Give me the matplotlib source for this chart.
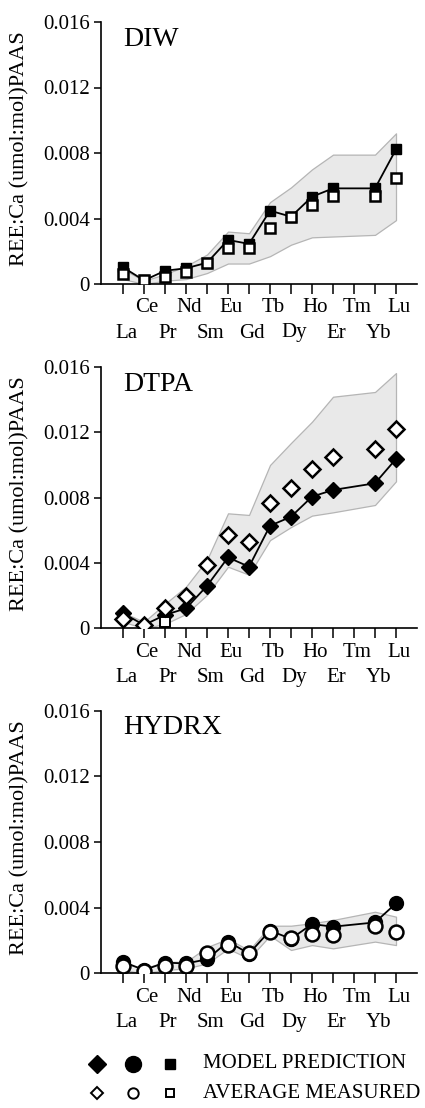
import matplotlib
matplotlib.use("Agg")
import matplotlib.pyplot as plt
from matplotlib.lines import Line2D
from matplotlib.transforms import blended_transform_factory, offset_copy
import numpy as np

plt.rcParams['font.family'] = ['Liberation Serif', 'DejaVu Serif']

elements = ["La", "Ce", "Pr", "Nd", "Sm", "Eu", "Gd", "Tb", "Dy", "Ho", "Er", "Tm", "Yb", "Lu"]
yticks = [0, 0.004, 0.008, 0.012, 0.016]
ytick_labels = ["0", "0.004", "0.008", "0.012", "0.016"]
ylabel = "REE:Ca (umol:mol)PAAS"

# DIW
diw_model = [0.00102, 0.00022, 0.00081, 0.00096, 0.0013, 0.00269, 0.00245, 0.00448, 0.00411, 0.00533, 0.00584, None, 0.00584, 0.00822]
diw_meas = [0.00059, 0.00022, 0.00045, 0.00071, 0.0013, 0.00222, 0.00218, 0.0034, 0.00411, 0.00482, 0.00537, None, 0.00537, 0.00645]
diw_lo = [0.0003, 0.0, 0.0002, 0.0003, 0.00067, 0.00125, 0.00125, 0.0017, 0.0024, 0.00285, 0.0029, None, 0.003, 0.0039]
diw_hi = [0.0009, 0.0002, 0.0006, 0.0011, 0.0018, 0.0032, 0.0031, 0.0050, 0.0059, 0.0070, 0.0079, None, 0.0079, 0.0092]

# DTPA
dtpa_model = [0.00092, 0.0002, 0.00082, 0.00122, 0.0026, 0.00434, 0.00377, 0.00628, 0.00683, 0.00806, 0.00847, None, 0.00888, 0.01037]
dtpa_meas = [0.0006, 0.0002, 0.00122, 0.00198, 0.0039, 0.0057, 0.00526, 0.00765, 0.00857, 0.00973, 0.01051, None, 0.01096, 0.0122]
dtpa_lo = [0.0004, 0.0, 0.00027, 0.00088, 0.00205, 0.00377, 0.00328, 0.0054, 0.0062, 0.0069, 0.0071, None, 0.00755, 0.0090]
dtpa_hi = [0.00096, 0.0004, 0.0015, 0.00255, 0.0042, 0.00704, 0.00694, 0.0100, 0.01135, 0.01265, 0.01418, None, 0.01447, 0.01563]
dtpa_extra_elem = ["Pr"]
dtpa_extra_val = [0.0004]

# HYDRX
hydrx_model = [0.0007, 0.0002, 0.00065, 0.0006, 0.00085, 0.00193, 0.0012, 0.0026, 0.0021, 0.0030, 0.00284, None, 0.0031, 0.00426]
hydrx_meas = [0.00044, 0.00016, 0.00044, 0.00044, 0.00126, 0.00172, 0.00122, 0.00254, 0.00213, 0.0024, 0.00233, None, 0.0029, 0.00254]
hydrx_lo = [0.0002, 0.0, 0.0002, 0.0003, 0.0006, 0.0015, 0.0009, 0.0023, 0.00142, 0.00172, 0.00152, None, 0.00193, 0.00172]
hydrx_hi = [0.0006, 0.0003, 0.0007, 0.0007, 0.0016, 0.0021, 0.0014, 0.0029, 0.0029, 0.00305, 0.00325, None, 0.00375, 0.00345]

panels = [
    ("DIW", "s", diw_model, diw_meas, diw_lo, diw_hi),
    ("DTPA", "D", dtpa_model, dtpa_meas, dtpa_lo, dtpa_hi),
    ("HYDRX", "o", hydrx_model, hydrx_meas, hydrx_lo, hydrx_hi),
]

W, H = 425, 1108
fig = plt.figure(figsize=(W / 100, H / 100), dpi=100)

axes_px = [(22, 284), (367, 628.3), (710.7, 973.3)]
left_px, right_px = 101, 417

msize = {"s": 7.5, "D": 8.3, "o": 10.0}

def clean(vals):
    x = [i for i, v in enumerate(vals) if v is not None]
    y = [v for v in vals if v is not None]
    return np.array(x), np.array(y)

for (name, mk, model, meas, lo, hi), (top, bot) in zip(panels, axes_px):
    ax = fig.add_axes([left_px / W, 1 - bot / H, (right_px - left_px) / W, (bot - top) / H])
    xl, ylo = clean(lo)
    _, yhi = clean(hi)
    ax.fill_between(xl, ylo, yhi, facecolor="#e9e9e9", edgecolor="#b5b5b5", linewidth=0.9, zorder=1)
    xm, ym = clean(model)
    ax.plot(xm, ym, color="black", linewidth=1.3, marker=mk, markersize=msize[mk],
            markerfacecolor="black", markeredgecolor="black", zorder=3)
    xa, ya = clean(meas)
    ax.plot(xa, ya, linestyle="none", marker=mk, markersize=msize[mk],
            markerfacecolor="white", markeredgecolor="black", markeredgewidth=1.8, zorder=4)
    if name == "DTPA":
        ex = [elements.index(e) for e in dtpa_extra_elem]
        ax.plot(ex, dtpa_extra_val, linestyle="none", marker="s", markersize=6.5,
                markerfacecolor="white", markeredgecolor="black", markeredgewidth=1.4, zorder=3.5)

    ax.set_xlim(-1.05, 14.0)
    ax.set_ylim(0, 0.016)
    ax.set_yticks(yticks)
    ax.set_yticklabels(ytick_labels, fontsize=15)
    ax.set_xticks(range(len(elements)))
    ax.set_xticklabels([])
    ax.tick_params(axis="x", direction="out", length=7, width=1.1)
    ax.tick_params(axis="y", direction="out", length=5, width=1.1, pad=3)
    for s in ["top", "right"]:
        ax.spines[s].set_visible(False)
    for s in ["left", "bottom"]:
        ax.spines[s].set_linewidth(1.2)
    ax.patch.set_alpha(0)

    btrans = blended_transform_factory(ax.transData, ax.transAxes)
    for i, e in enumerate(elements):
        dy = -28.5 if i % 2 == 1 else -53.5
        tr = offset_copy(btrans, fig=fig, x=3, y=dy, units="dots")
        ax.text(i, 0, e, transform=tr, ha="center", va="baseline", fontsize=15)

    ax.text(0.07, 0.91, name, transform=ax.transAxes, fontsize=20, ha="left", va="baseline")
    ax.text(-0.256, 0.515, ylabel, transform=ax.transAxes, rotation=90,
            ha="center", va="center", fontsize=16)

# Legend at bottom
rows = [(1064, "black", "MODEL PREDICTION", [("D", 9.5), ("o", 11.5), ("s", 7.0)], 1.0),
        (1093, "white", "AVERAGE MEASURED", [("D", 6.0), ("o", 7.5), ("s", 6.3)], 1.4)]
xs = [97, 133, 170]
for y, fc, label, mks, mew in rows:
    for x, (m, ms) in zip(xs, mks):
        fig.add_artist(Line2D([x / W], [1 - y / H], transform=fig.transFigure, marker=m,
                              markersize=ms, markerfacecolor=fc, markeredgecolor="black",
                              markeredgewidth=mew, linestyle="none"))
    fig.text(203 / W, 1 - y / H, label, fontsize=15, ha="left", va="center")

fig.savefig("out.png", dpi=100)
